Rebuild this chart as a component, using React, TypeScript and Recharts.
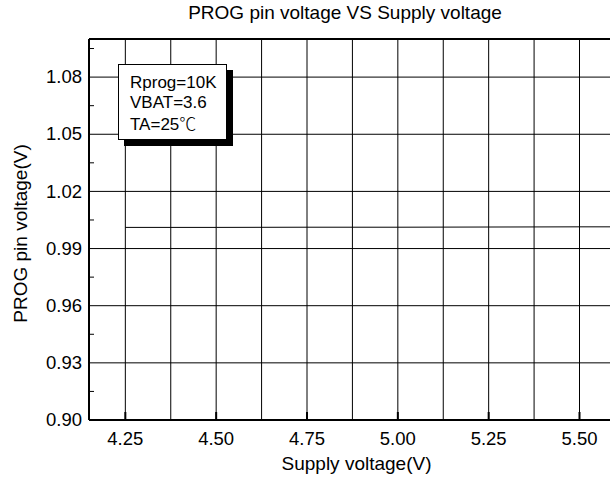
import React from "react";
import {
  CartesianGrid,
  Label,
  Legend,
  Line,
  LineChart,
  ReferenceLine,
  XAxis,
  YAxis,
} from "recharts";

const supplyVoltage = [4.25, 4.5, 4.75, 5.0, 5.25, 5.5, 5.65];
const progVoltage = [1.0011, 1.0011, 1.0012, 1.0012, 1.0013, 1.0014, 1.0014];

const xMajorTicks = [4.25, 4.5, 4.75, 5.0, 5.25, 5.5];
const xGridLines = [4.25, 4.375, 4.5, 4.625, 4.75, 4.875, 5.0, 5.125, 5.25, 5.375, 5.5, 5.625];
const yMajorTicks = [0.9, 0.93, 0.96, 0.99, 1.02, 1.05, 1.08];
const yAllTicks = [0.9, 0.915, 0.93, 0.945, 0.96, 0.975, 0.99, 1.005, 1.02, 1.035, 1.05, 1.065, 1.08, 1.095];

const notes = ["Rprog=10K", "VBAT=3.6", "TA=25"];

const data = supplyVoltage.map((v, i) => ({ supply: v, prog: progVoltage[i] }));

const FONT = "Arial, 'Liberation Sans', sans-serif";
const TICK_SIZE = 18.5;
const LABEL_SIZE = 19;

function YTick({ x, y, payload }: any) {
  const isMajor = yMajorTicks.includes(payload.value);
  if (!isMajor) {
    return <line x1={x + 7} x2={x + 12} y1={y} y2={y} stroke="#000" strokeWidth={1} />;
  }
  return (
    <text x={x} y={y} dy="0.33em" textAnchor="end" fontSize={TICK_SIZE} fontFamily={FONT} fill="#000">
      {payload.value.toFixed(2)}
    </text>
  );
}

function XTick({ x, y, payload }: any) {
  return (
    <g>
      <line x1={x} x2={x} y1={y - 12} y2={y - 20} stroke="#000" strokeWidth={2} />
      <text x={x} y={y} dy="0.71em" textAnchor="middle" fontSize={TICK_SIZE} fontFamily={FONT} fill="#000">
        {payload.value.toFixed(2)}
      </text>
    </g>
  );
}

function NotesBox() {
  return (
    <div
      style={{
        width: 96,
        height: 66,
        padding: "8px 0 0 11px",
        border: "1px solid #000",
        background: "#fff",
        boxShadow: "6px 6px 0 #000",
        fontFamily: FONT,
        fontSize: 17,
        lineHeight: "20px",
        color: "#000",
      }}
    >
      {notes.map((n, i) => (
        <div key={n}>
          {n}
          {i === notes.length - 1 && (
            <span style={{ fontFamily: "'Noto Sans CJK SC'", fontWeight: 300 }}>℃</span>
          )}
        </div>
      ))}
    </div>
  );
}

export default function App() {
  return (
    <div
      style={{
        position: "absolute",
        left: 0,
        top: 0,
        width: 610,
        height: 479,
        overflow: "hidden",
        background: "#fff",
      }}
    >
      <div
        style={{
          position: "absolute",
          left: 0,
          top: 3,
          width: 690,
          textAlign: "center",
          fontFamily: FONT,
          fontSize: LABEL_SIZE,
          lineHeight: "19px",
          color: "#000",
        }}
      >
        PROG pin voltage VS Supply voltage
      </div>
      <LineChart
        width={634}
        height={479}
        data={data}
        margin={{ top: 39, right: 0, bottom: 0, left: 0 }}
      >
        <CartesianGrid
          stroke="#000"
          strokeWidth={1}
          horizontalValues={yMajorTicks}
          verticalValues={xGridLines}
        />
        <XAxis
          dataKey="supply"
          type="number"
          domain={[4.15, 5.65]}
          ticks={xMajorTicks}
          height={59}
          tickSize={0}
          tickMargin={12}
          tick={<XTick />}
          axisLine={{ stroke: "#000", strokeWidth: 2 }}
          allowDataOverflow
        >
          <Label
            value="Supply voltage(V)"
            position="insideBottom"
            offset={9}
            dx={-5}
            fill="#000"
            style={{ fontSize: LABEL_SIZE, fontFamily: FONT, fill: "#000" }}
          />
        </XAxis>
        <YAxis
          type="number"
          domain={[0.9, 1.1]}
          ticks={yAllTicks}
          width={89}
          tickSize={0}
          tickMargin={7}
          tick={<YTick />}
          interval={0}
          axisLine={{ stroke: "#000", strokeWidth: 2 }}
          allowDataOverflow
        >
          <Label
            value="PROG pin voltage(V)"
            angle={-90}
            position="insideLeft"
            offset={20}
            dy={4}
            fill="#000"
            style={{ fontSize: LABEL_SIZE, fontFamily: FONT, fill: "#000", textAnchor: "middle" }}
          />
        </YAxis>
        <ReferenceLine y={1.1} stroke="#000" strokeWidth={2} />
        <Legend
          layout="vertical"
          align="center"
          verticalAlign="middle"
          content={() => <NotesBox />}
          wrapperStyle={{ left: 118, top: 64, width: "auto" }}
        />
        <Line
          type="linear"
          dataKey="prog"
          stroke="#000"
          strokeWidth={1}
          dot={false}
          isAnimationActive={false}
        />
      </LineChart>
    </div>
  );
}
